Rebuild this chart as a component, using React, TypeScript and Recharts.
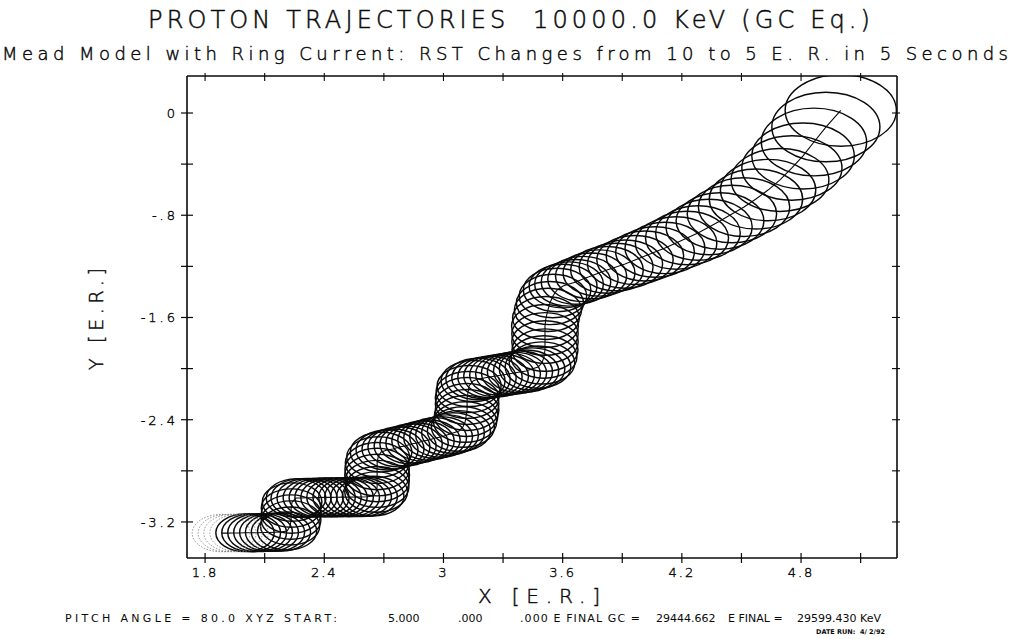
import React from 'react';
import { ScatterChart, Scatter, XAxis, YAxis } from 'recharts';

// Guiding-centre path (E.R.), from start (5,0) to end, and gyroradius (E.R.)
const gcX = [
  5.000, 4.925, 4.865, 4.810, 4.754, 4.694, 4.634, 4.573, 4.513, 4.452, 4.392, 4.337, 4.281, 4.226,
  4.171, 4.115, 4.065, 4.014, 3.964, 3.914, 3.869, 3.823, 3.783, 3.743, 3.702, 3.667, 3.632, 3.602,
  3.572, 3.551, 3.536, 3.526, 3.516, 3.511, 3.511, 3.511, 3.511, 3.506, 3.496, 3.476,
  3.446, 3.416, 3.385, 3.355, 3.325, 3.295, 3.265, 3.234, 3.204, 3.174, 3.149,
  3.129, 3.124, 3.119, 3.119, 3.119, 3.114, 3.109, 3.098, 3.078,
  3.048, 3.018, 2.988, 2.958, 2.927, 2.897, 2.867, 2.837, 2.807, 2.776, 2.746, 2.716, 2.686,
  2.671, 2.666, 2.666, 2.666, 2.666, 2.666, 2.661, 2.646,
  2.615, 2.585, 2.555, 2.525, 2.495, 2.464, 2.434, 2.404, 2.374, 2.344, 2.313, 2.283, 2.258,
  2.238, 2.233, 2.233, 2.233, 2.228, 2.213,
  2.182, 2.152, 2.122, 2.092, 2.062, 2.032, 2.001, 1.971, 1.941, 1.911, 1.881,
];
const gcY = [
  0.020, -0.110, -0.227, -0.336, -0.430, -0.524, -0.603, -0.673, -0.736, -0.790, -0.845, -0.892, -0.939, -0.978,
  -1.017, -1.056, -1.088, -1.119, -1.150, -1.182, -1.205, -1.228, -1.252, -1.275, -1.299, -1.322, -1.338, -1.354,
  -1.385, -1.432, -1.487, -1.541, -1.604, -1.667, -1.729, -1.792, -1.855, -1.909, -1.956, -1.988,
  -2.003, -2.019, -2.027, -2.035, -2.042, -2.050, -2.058, -2.066, -2.074, -2.081, -2.097,
  -2.136, -2.183, -2.230, -2.277, -2.324, -2.371, -2.418, -2.457, -2.488,
  -2.504, -2.520, -2.535, -2.543, -2.559, -2.567, -2.582, -2.590, -2.606, -2.613, -2.629, -2.637, -2.653,
  -2.692, -2.739, -2.786, -2.833, -2.880, -2.926, -2.966, -2.997,
  -3.003, -3.005, -3.005, -3.006, -3.006, -3.007, -3.008, -3.008, -3.009, -3.010, -3.011, -3.012, -3.013,
  -3.044, -3.091, -3.138, -3.185, -3.232, -3.271,
  -3.279, -3.281, -3.282, -3.283, -3.284, -3.285, -3.285, -3.286, -3.286, -3.287, -3.287,
];
const gyroR = [
  0.280, 0.272, 0.265, 0.258, 0.252, 0.246, 0.240, 0.235, 0.230, 0.225, 0.221, 0.217, 0.213, 0.209,
  0.205, 0.201, 0.198, 0.195, 0.192, 0.189, 0.186, 0.183, 0.181, 0.179, 0.177, 0.175, 0.173, 0.171,
  0.170, 0.170, 0.169, 0.169, 0.168, 0.168, 0.167, 0.167, 0.166, 0.166, 0.165, 0.165,
  0.165, 0.164, 0.164, 0.164, 0.163, 0.163, 0.163, 0.162, 0.162, 0.162, 0.161,
  0.161, 0.161, 0.160, 0.160, 0.160, 0.160, 0.159, 0.159, 0.159,
  0.158, 0.158, 0.158, 0.158, 0.157, 0.157, 0.157, 0.157, 0.156, 0.156, 0.156, 0.156, 0.155,
  0.158, 0.160, 0.162, 0.163, 0.162, 0.160, 0.158, 0.155,
  0.153, 0.153, 0.153, 0.153, 0.152, 0.152, 0.152, 0.152, 0.151, 0.151, 0.151, 0.151, 0.150,
  0.150, 0.150, 0.150, 0.150, 0.149, 0.149,
  0.149, 0.149, 0.148, 0.148, 0.148, 0.148, 0.147, 0.147, 0.147, 0.146, 0.146,
];
const FAINT_LAST = 4; // last loops are printed faintly

const xTicks = [1.8, 2.1, 2.4, 2.7, 3.0, 3.3, 3.6, 3.9, 4.2, 4.5, 4.8, 5.1];
const xTickLabels: Record<string, string> = { '1.8': '1.8', '2.4': '2.4', '3': '3', '3.6': '3.6', '4.2': '4.2', '4.8': '4.8' };
const yTicks = [0, -0.4, -0.8, -1.2, -1.6, -2.0, -2.4, -2.8, -3.2];
const yTickLabels: Record<string, string> = { '0': '0', '-0.8': '-.8', '-1.6': '-1.6', '-2.4': '-2.4', '-3.2': '-3.2' };

const X_DOMAIN: [number, number] = [1.709, 5.283];
const Y_DOMAIN: [number, number] = [-3.482, 0.2895];

const CHART_W = 1013;
const CHART_H = 639;
const AXIS_T = 1; // thickness reserved for each axis box
const M = { top: 76 - AXIS_T, right: 116 - AXIS_T, bottom: 81 - AXIS_T, left: 187 - AXIS_T };
const PLOT_W = CHART_W - M.left - M.right - 2 * AXIS_T;
const PLOT_H = CHART_H - M.top - M.bottom - 2 * AXIS_T;
const SX = PLOT_W / (X_DOMAIN[1] - X_DOMAIN[0]);
const SY = PLOT_H / (Y_DOMAIN[1] - Y_DOMAIN[0]);

const rows = gcX.map((x, i) => ({ x, y: gcY[i], r: gyroR[i], faint: i >= gcX.length - FAINT_LAST }));

const FONT = '"DejaVu Sans", "Liberation Sans", sans-serif';
const INK = '#0a0a0a';
const PRE = { whiteSpace: 'pre' } as React.CSSProperties;

const Gyro = (props: any) => {
  const { cx, cy, payload } = props;
  if (cx == null || cy == null) return null;
  return (
    <ellipse
      cx={cx}
      cy={cy}
      rx={payload.r * SX}
      ry={payload.r * SY}
      fill="none"
      stroke={payload.faint ? '#777' : INK}
      strokeWidth={payload.faint ? 0.8 : 1.45}
      strokeDasharray={payload.faint ? '1.5 1.5' : undefined}
    />
  );
};

const Hidden = () => <g />;

const BottomTick = (props: any) => {
  const { x, y, payload } = props;
  const label = xTickLabels[String(payload.value)];
  return (
    <g>
      <line x1={x} x2={x} y1={y - 5} y2={y + 5} stroke={INK} strokeWidth={1.2} />
      {label && (
        <text x={x} y={y + 19} textAnchor="middle" fontFamily={FONT} fontSize={13} letterSpacing={2} fill={INK} fontWeight={300} stroke={INK} strokeWidth={0.4}>
          {label}
        </text>
      )}
    </g>
  );
};
const LeftTick = (props: any) => {
  const { x, y, payload } = props;
  const label = yTickLabels[String(payload.value)];
  return (
    <g>
      <line x1={x - 6} x2={x + 6} y1={y} y2={y} stroke={INK} strokeWidth={1.2} />
      {label && (
        <text x={x - 9} y={y + 5} textAnchor="end" fontFamily={FONT} fontSize={13} letterSpacing={3} fill={INK} fontWeight={300} stroke={INK} strokeWidth={0.4}>
          {label}
        </text>
      )}
    </g>
  );
};
const TopTick = (props: any) => {
  const { x, y } = props;
  return <line x1={x} x2={x} y1={y - 3} y2={y + 5} stroke={INK} strokeWidth={1.1} />;
};
const RightTick = (props: any) => {
  const { x, y } = props;
  return <line x1={x - 5} x2={x + 3} y1={y} y2={y} stroke={INK} strokeWidth={1.1} />;
};

export default function App() {
  return (
    <div style={{ position: 'absolute', left: 0, top: 0, width: CHART_W, height: CHART_H, background: '#fff' }}>
      <svg width={CHART_W} height={CHART_H} style={{ position: 'absolute', left: 0, top: 0 }}>
        <g fontFamily={FONT} fill={INK} stroke={INK} fontWeight={300}>
          <text x={148} y={28} fontSize={24} strokeWidth={0.5} textLength={722} lengthAdjust="spacing" style={PRE}>
            {'PROTON TRAJECTORIES  10000.0 KeV (GC Eq.)'}
          </text>
          <text x={2} y={60} fontSize={18} strokeWidth={0.45} textLength={1006} lengthAdjust="spacing">
            Mead Model with Ring Current: RST Changes from 10 to 5 E. R. in 5 Seconds
          </text>
          <text x={478} y={603} fontSize={20} strokeWidth={0.45} textLength={122} lengthAdjust="spacing">
            X [E.R.]
          </text>
          <text x={0} y={0} transform="translate(103 370) rotate(-90)" fontSize={19} strokeWidth={0.45} textLength={102} lengthAdjust="spacing">
            Y [E.R.]
          </text>
        </g>
        <g fontFamily={FONT} fontSize={11} fill={INK} style={PRE}>
          <text x={65} y={622} textLength={272} lengthAdjust="spacing">{'PITCH ANGLE =  80.0 XYZ START:'}</text>
          <text x={388} y={622}>5.000</text>
          <text x={458} y={622}>.000</text>
          <text x={520} y={622} textLength={120} lengthAdjust="spacing">.000 E FINAL GC =</text>
          <text x={656} y={622}>29444.662</text>
          <text x={728} y={622}>E FINAL =</text>
          <text x={797} y={622}>29599.430 KeV</text>
        </g>
        <text x={816} y={634} fontFamily={FONT} fontSize={6.5} fontWeight={700} fill={INK} style={PRE}>
          {'DATE RUN:  4/ 2/92'}
        </text>
      </svg>
      <div style={{ position: 'absolute', left: 0, top: 0 }}>
        <ScatterChart width={CHART_W} height={CHART_H} margin={M}>
          <XAxis
            xAxisId="b"
            dataKey="x"
            type="number"
            domain={X_DOMAIN}
            allowDataOverflow
            ticks={xTicks}
            interval={0}
            height={AXIS_T}
            tickSize={0}
            tickMargin={0}
            tickLine={false}
            tick={<BottomTick />}
            axisLine={{ stroke: INK, strokeWidth: 1.6 }}
          />
          <XAxis
            xAxisId="t"
            orientation="top"
            dataKey="x"
            type="number"
            domain={X_DOMAIN}
            allowDataOverflow
            ticks={xTicks}
            interval={0}
            height={AXIS_T}
            tickSize={0}
            tickMargin={0}
            tickLine={false}
            tick={<TopTick />}
            axisLine={{ stroke: INK, strokeWidth: 1.4 }}
          />
          <YAxis
            yAxisId="l"
            dataKey="y"
            type="number"
            domain={Y_DOMAIN}
            allowDataOverflow
            ticks={yTicks}
            interval={0}
            width={AXIS_T}
            tickSize={0}
            tickMargin={0}
            tickLine={false}
            tick={<LeftTick />}
            axisLine={{ stroke: INK, strokeWidth: 1.6 }}
          />
          <YAxis
            yAxisId="r"
            orientation="right"
            dataKey="y"
            type="number"
            domain={Y_DOMAIN}
            allowDataOverflow
            ticks={yTicks}
            interval={0}
            width={AXIS_T}
            tickSize={0}
            tickMargin={0}
            tickLine={false}
            tick={<RightTick />}
            axisLine={{ stroke: INK, strokeWidth: 1.6 }}
          />
          <Scatter
            data={rows}
            xAxisId="t"
            yAxisId="r"
            shape={<Hidden />}
            isAnimationActive={false}
            legendType="none"
          />
          <Scatter
            data={rows}
            xAxisId="b"
            yAxisId="l"
            shape={<Gyro />}
            line={{ stroke: INK, strokeWidth: 1.1 }}
            lineJointType="linear"
            isAnimationActive={false}
          />
        </ScatterChart>
      </div>
    </div>
  );
}
